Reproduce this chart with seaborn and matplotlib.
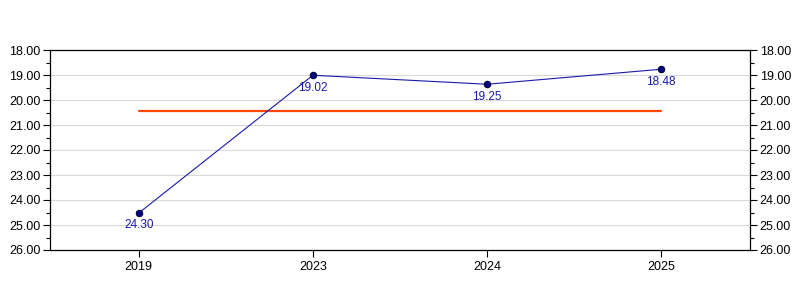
import matplotlib
matplotlib.use("Agg")
import matplotlib.pyplot as plt
import seaborn as sns
import pandas as pd
from matplotlib.ticker import MultipleLocator, FormatStrFormatter

years = ["2019", "2023", "2024", "2025"]
values = [24.52, 19.01, 19.37, 18.77]
point_labels = ["24.30", "19.02", "19.25", "18.48"]
average = 20.44

sns.set_theme(style="white")
plt.rcParams['font.family'] = ['Liberation Sans', 'DejaVu Sans']

df = pd.DataFrame({"year": years, "value": values})
avg_df = pd.DataFrame({"year": [years[0], years[-1]], "value": [average, average]})

fig = plt.figure(figsize=(8, 3), dpi=100)
ax = fig.add_axes([0.0625, 1 / 6, 0.875, 2 / 3])

sns.lineplot(data=df, x="year", y="value", ax=ax, color="#1a1aa8", linewidth=0.8,
             marker="o", markersize=4.6, markerfacecolor="#000080",
             markeredgecolor="#000040", markeredgewidth=0.8, sort=False, zorder=3)
sns.lineplot(data=avg_df, x="year", y="value", ax=ax, color="#ff4500", linewidth=1.6,
             sort=False, zorder=2)

for i, (v, lab) in enumerate(zip(values, point_labels)):
    ax.annotate(lab, (i, v), xytext=(0, -4.5), textcoords="offset points",
                ha="center", va="top", fontsize=8.5, color="#1a1aa8")

ax.set_xlim(-0.51, 3.51)
ax.set_ylim(26, 18)
ax.yaxis.set_major_locator(MultipleLocator(1))
ax.yaxis.set_minor_locator(MultipleLocator(0.5))
ax.yaxis.set_major_formatter(FormatStrFormatter("%.2f"))
ax.grid(axis="y", which="major", color="#d9d9d9", linewidth=0.8)
ax.set_axisbelow(True)
ax.set_xlabel("")
ax.set_ylabel("")

for s in ax.spines.values():
    s.set_color("black")
    s.set_linewidth(0.9)

ax.tick_params(axis="y", which="both", left=True, right=True, labelleft=True,
               labelright=True, direction="out", color="black", labelsize=9,
               labelcolor="black", pad=2)
ax.tick_params(axis="y", which="major", length=5, width=0.8)
ax.tick_params(axis="y", which="minor", length=3, width=0.8)
ax.tick_params(axis="x", which="major", bottom=True, length=5, width=0.8,
               direction="out", color="black", labelsize=9, labelcolor="black", pad=3)

fig.savefig("out.png", dpi=100, facecolor="white")
